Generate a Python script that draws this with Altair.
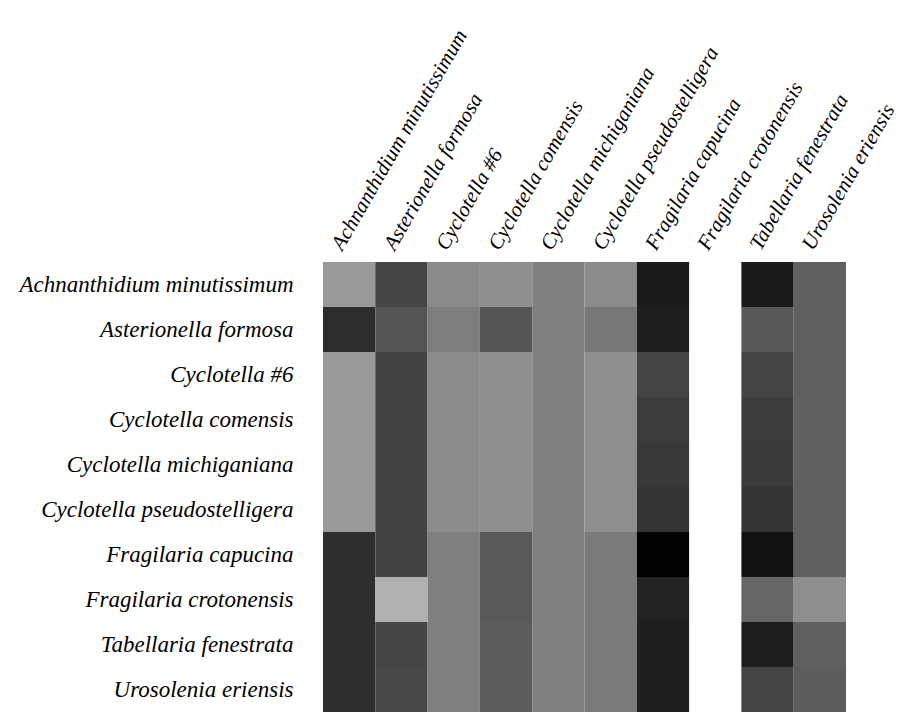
import altair as alt
import pandas as pd

species = [
    "Achnanthidium minutissimum",
    "Asterionella formosa",
    "Cyclotella #6",
    "Cyclotella comensis",
    "Cyclotella michiganiana",
    "Cyclotella pseudostelligera",
    "Fragilaria capucina",
    "Fragilaria crotonensis",
    "Tabellaria fenestrata",
    "Urosolenia eriensis",
]

# grey level of each cell (0 = black, 255 = white); None = empty cell
row_achnanthidium = [153, 68, 138, 143, 128, 140, 26, None, 25, 96]
row_asterionella = [45, 85, 125, 85, 128, 119, 30, None, 88, 96]
row_cyclotella6 = [153, 67, 140, 143, 128, 142, 68, None, 68, 96]
row_comensis = [153, 67, 140, 143, 128, 142, 59, None, 60, 96]
row_michiganiana = [153, 67, 140, 143, 128, 142, 56, None, 58, 96]
row_pseudostelligera = [153, 67, 140, 143, 128, 142, 51, None, 52, 96]
row_capucina = [46, 67, 127, 89, 128, 122, 0, None, 17, 96]
row_crotonensis = [46, 176, 127, 89, 128, 122, 34, None, 102, 142]
row_tabellaria = [46, 68, 127, 92, 128, 122, 31, None, 31, 96]
row_urosolenia = [46, 71, 127, 92, 128, 122, 31, None, 68, 92]

rows = [
    row_achnanthidium, row_asterionella, row_cyclotella6, row_comensis,
    row_michiganiana, row_pseudostelligera, row_capucina, row_crotonensis,
    row_tabellaria, row_urosolenia,
]

records = []
for r, vals in zip(species, rows):
    for c, v in zip(species, vals):
        if v is not None:
            records.append({"row": r, "col": c, "level": v})
df = pd.DataFrame(records)

chart = alt.Chart(df).mark_rect(strokeWidth=0).encode(
    x=alt.X("col:N", sort=species, title=None,
            scale=alt.Scale(domain=species, paddingInner=0, paddingOuter=0),
            axis=alt.Axis(orient="top", labelAngle=300, labelAlign="left",
                          labelBaseline="middle", labelPadding=14, labelOffset=-12,
                          labelFont="Liberation Serif", labelFontStyle="italic",
                          labelFontSize=21, labelColor="black", labelLimit=500,
                          labelOverlap=False, ticks=False, domain=False)),
    y=alt.Y("row:N", sort=species, title=None,
            scale=alt.Scale(domain=species, paddingInner=0, paddingOuter=0),
            axis=alt.Axis(labelPadding=30, labelFont="Liberation Serif",
                          labelFontStyle="italic", labelFontSize=23,
                          labelColor="black", labelLimit=500,
                          labelOverlap=False, ticks=False, domain=False)),
    color=alt.Color("level:Q", legend=None,
                    scale=alt.Scale(domain=[0, 255], range=["#000000", "#ffffff"],
                                    interpolate="rgb")),
).properties(
    width=523,
    height=450,
    autosize=alt.AutoSizeParams(type="none"),
    padding={"left": 315, "top": 254, "right": 55, "bottom": 0},
).configure_view(stroke=None)

chart.save("out.html", embed_options={"renderer": "svg", "actions": False})
